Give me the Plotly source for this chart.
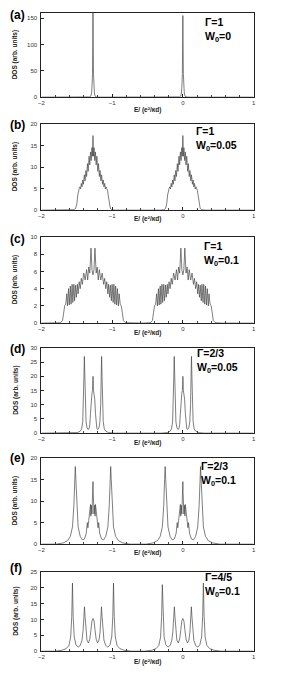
import plotly.graph_objects as go

W, H = 291, 678
X_LEFT, X_RIGHT = 39, 255

band_centers = [-1.27, 0.0]

# panel data: offsets from band centre (E units) and DOS values
a_off = [-0.10, -0.045, -0.03, -0.02, -0.012, -0.007, -0.003, 0.0, 0.003, 0.007, 0.012, 0.02, 0.03, 0.045, 0.10]
a_dos = [0, 0.5, 2, 8, 25, 45, 110, 160, 110, 45, 25, 8, 2, 0.5, 0]
a_dos_right = [0, 0.5, 2, 8, 25, 45, 105, 155, 105, 45, 25, 8, 2, 0.5, 0]

b_off = [-0.32, -0.27, -0.245, -0.228, -0.215, -0.205, -0.195, -0.185, -0.175, -0.165, -0.155, -0.145, -0.135,
         -0.122, -0.112, -0.100, -0.090, -0.078, -0.068, -0.055, -0.045, -0.035, -0.025, -0.015, -0.008, 0.0,
         0.008, 0.015, 0.025, 0.035, 0.045, 0.055, 0.068, 0.078, 0.090, 0.100, 0.112, 0.122, 0.135, 0.145,
         0.155, 0.165, 0.175, 0.185, 0.195, 0.205, 0.215, 0.228, 0.245, 0.27, 0.32]
b_dos = [0, 0.1, 0.4, 1.5, 3.5, 4.6, 5.0, 5.4, 4.9, 6.2, 5.4, 7.0, 6.0,
         8.2, 6.8, 9.2, 7.8, 10.8, 9.0, 12.5, 10.5, 13.5, 11.5, 14.5, 12.5, 17.3,
         12.5, 14.5, 11.5, 13.5, 10.5, 12.5, 9.0, 10.8, 7.8, 9.2, 6.8, 8.2, 6.0, 7.0,
         5.4, 6.2, 4.9, 5.4, 5.0, 4.6, 3.5, 1.5, 0.4, 0.1, 0]

c_off = [-0.56, -0.46, -0.43, -0.415, -0.40, -0.385, -0.37, -0.36, -0.345, -0.335, -0.32, -0.31, -0.295,
         -0.285, -0.27, -0.26, -0.245, -0.235, -0.22, -0.21, -0.195, -0.18, -0.165, -0.15, -0.13, -0.11,
         -0.09, -0.075, -0.06, -0.045, -0.028, -0.014, 0.0, 0.014, 0.028, 0.045, 0.06, 0.075, 0.09, 0.11,
         0.13, 0.15, 0.165, 0.18, 0.195, 0.21, 0.22, 0.235, 0.245, 0.26, 0.27, 0.285, 0.295, 0.31, 0.32,
         0.335, 0.345, 0.36, 0.37, 0.385, 0.40, 0.415, 0.43, 0.46, 0.56]
c_dos = [0, 0.05, 0.3, 1.2, 2.0, 2.2, 3.4, 2.0, 4.0, 2.1, 4.3, 2.2, 4.5,
         2.4, 4.5, 2.6, 4.4, 3.0, 4.5, 3.4, 4.8, 4.0, 5.2, 4.5, 5.8, 5.0,
         6.2, 5.0, 6.5, 5.8, 8.7, 6.2, 5.6, 6.2, 8.7, 5.8, 6.5, 5.0, 6.2, 5.0,
         5.8, 4.5, 5.2, 4.0, 4.8, 3.4, 4.5, 3.0, 4.4, 2.6, 4.5, 2.4, 4.5, 2.2, 4.3,
         2.1, 4.0, 2.0, 3.4, 2.2, 2.0, 1.2, 0.3, 0.05, 0]

d_off = [-0.30, -0.22, -0.18, -0.16, -0.145, -0.135, -0.128, -0.122, -0.116, -0.109, -0.098, -0.085, -0.07,
         -0.055, -0.045, -0.035, -0.025, -0.015, -0.007, -0.003, 0.0, 0.003, 0.007, 0.015, 0.025, 0.035,
         0.045, 0.055, 0.07, 0.085, 0.098, 0.109, 0.116, 0.122, 0.128, 0.135, 0.145, 0.16, 0.18, 0.22, 0.30]
d_dos = [0, 0.2, 0.7, 1.5, 4, 10, 20, 27, 20, 10, 4, 2, 1.3,
         1.6, 3, 7, 12, 14, 15, 19, 20, 19, 15, 14, 12, 7,
         3, 1.6, 1.3, 2, 4, 10, 20, 27, 20, 10, 4, 1.5, 0.7, 0.2, 0]

e_off = [-0.52, -0.42, -0.36, -0.32, -0.29, -0.27, -0.258, -0.25, -0.242, -0.23, -0.21, -0.18, -0.15,
         -0.12, -0.095, -0.08, -0.072, -0.06, -0.045, -0.035, -0.03, -0.022, -0.015, -0.008, -0.003, 0.0,
         0.003, 0.008, 0.015, 0.022, 0.03, 0.035, 0.045, 0.06, 0.072, 0.08, 0.095, 0.12, 0.15, 0.18, 0.21,
         0.23, 0.242, 0.25, 0.258, 0.27, 0.29, 0.32, 0.36, 0.42, 0.52]
e_dos = [0, 0.3, 0.8, 1.8, 4, 9, 15, 18, 15, 9, 4, 1.8, 1.0,
         1.2, 2.5, 5.0, 3.8, 5.5, 7.5, 9.2, 6.5, 9.0, 7.0, 10.0, 12.0, 14.5,
         12.0, 10.0, 7.0, 9.0, 6.5, 9.2, 7.5, 5.5, 3.8, 5.0, 2.5, 1.2, 1.0, 1.8, 4,
         9, 15, 18, 15, 9, 4, 1.8, 0.8, 0.3, 0]

f_off = [-0.54, -0.44, -0.38, -0.34, -0.315, -0.30, -0.29, -0.28, -0.265, -0.24, -0.21, -0.18, -0.155,
         -0.14, -0.128, -0.12, -0.112, -0.10, -0.085, -0.065, -0.045, -0.03, -0.015, 0.0,
         0.015, 0.03, 0.045, 0.065, 0.085, 0.10, 0.112, 0.12, 0.128, 0.14, 0.155, 0.18, 0.21, 0.24,
         0.265, 0.28, 0.29, 0.30, 0.315, 0.34, 0.38, 0.44, 0.54]
f_dos_left = [0, 0.3, 0.8, 1.8, 4.5, 11, 21.5, 11, 4.5, 2, 1.3, 1.8, 3.5,
              6.5, 11, 14, 11, 6, 3.5, 2.6, 3.8, 6.5, 9.5, 10.3,
              9.5, 6.5, 3.8, 2.6, 3.5, 6, 11, 14, 11, 6.5, 3.5, 1.8, 1.3, 2,
              4.5, 11, 21.5, 11, 4.5, 1.8, 0.8, 0.3, 0]
f_dos_right = [0, 0.3, 0.8, 1.8, 4.5, 11, 21.0, 11, 4.5, 2, 1.3, 1.8, 3.5,
               6.5, 11, 14, 11, 6, 3.5, 2.6, 3.8, 6.5, 9.5, 10.3,
               9.5, 6.5, 3.8, 2.6, 3.5, 6, 11, 14, 11, 6.5, 3.5, 1.8, 1.3, 2,
               4.5, 11, 21.5, 11, 4.5, 1.8, 0.8, 0.3, 0]

panels = [
    dict(tag="(a)", gamma="Γ=1", w0="0", off=a_off, dos=[a_dos, a_dos_right], ymax=160, dtick=50,
         top=10, bottom=95, lab_y=12, gx=205, gy=27, xt_y=108),
    dict(tag="(b)", gamma="Γ=1", w0="0.05", off=b_off, dos=[b_dos, b_dos], ymax=20, dtick=5,
         top=122, bottom=209, lab_y=123, gx=195, gy=137, xt_y=218),
    dict(tag="(c)", gamma="Γ=1", w0="0.1", off=c_off, dos=[c_dos, c_dos], ymax=10, dtick=2,
         top=236, bottom=323, lab_y=238, gx=204, gy=253, xt_y=333),
    dict(tag="(d)", gamma="Γ=2/3", w0="0.05", off=d_off, dos=[d_dos, d_dos], ymax=30, dtick=5,
         top=348, bottom=434, lab_y=349, gx=196, gy=361, xt_y=444),
    dict(tag="(e)", gamma="Γ=2/3", w0="0.1", off=e_off, dos=[e_dos, e_dos], ymax=20, dtick=5,
         top=459, bottom=546, lab_y=459, gx=200, gy=475, xt_y=555),
    dict(tag="(f)", gamma="Γ=4/5", w0="0.1", off=f_off, dos=[f_dos_left, f_dos_right], ymax=25, dtick=5,
         top=574, bottom=654, lab_y=570, gx=205, gy=587, xt_y=665),
]

E_MIN, E_MAX = -2.0, 1.0

fig = go.Figure()
annotations = []
layout_axes = {}
FONT = "Liberation Sans, Arial, DejaVu Sans, sans-serif"

for i, p in enumerate(panels, start=1):
    xs = [E_MIN]
    ys = [0.0]
    for c, dos in zip(band_centers, p["dos"]):
        xs += [c + o for o in p["off"]]
        ys += list(dos)
    xs.append(E_MAX)
    ys.append(0.0)
    xa = "x" if i == 1 else f"x{i}"
    ya = "y" if i == 1 else f"y{i}"
    fig.add_trace(go.Scatter(x=xs, y=ys, mode="lines", xaxis=xa, yaxis=ya,
                             line=dict(color="#484848", width=0.7), showlegend=False,
                             hoverinfo="skip"))
    ydom = [1 - p["bottom"] / H, 1 - p["top"] / H]
    xkey = "xaxis" if i == 1 else f"xaxis{i}"
    ykey = "yaxis" if i == 1 else f"yaxis{i}"
    layout_axes[xkey] = dict(domain=[X_LEFT / W, X_RIGHT / W], range=[E_MIN, E_MAX], anchor=ya,
                             tickvals=[-2, -1, 0, 1], ticks="inside", ticklen=3, tickwidth=0.8,
                             tickcolor="#222", showline=True, linecolor="#222", linewidth=1,
                             mirror=True, showgrid=False, zeroline=False,
                             minor=dict(dtick=0.2, ticks="inside", ticklen=2, tickcolor="#444",
                                        showgrid=False),
                             tickfont=dict(size=6, family=FONT, color="#333"))
    layout_axes[ykey] = dict(domain=ydom, range=[0, p["ymax"]], anchor=xa, dtick=p["dtick"],
                             ticks="inside", ticklen=3, tickwidth=0.8, tickcolor="#222",
                             showline=True, linecolor="#222", linewidth=1, mirror=True,
                             showgrid=False, zeroline=False, ticklabelstandoff=2,
                             tickfont=dict(size=6, family=FONT, color="#333"))
    # panel label
    annotations.append(dict(x=5 / W, y=1 - p["lab_y"] / H, xref="paper", yref="paper",
                            text=p["tag"], showarrow=False, xanchor="left",
                            yanchor="middle",
                            font=dict(size=12, family=FONT, color="black", weight="bold")))
    # parameter block: two lines in one text
    annotations.append(dict(x=p["gx"] / W, y=1 - p["gy"] / H, xref="paper", yref="paper",
                            text=f"{p['gamma']}<br>W<sub>0</sub>={p['w0']}", showarrow=False,
                            xanchor="left", yanchor="middle", align="left", borderpad=0,
                            font=dict(size=10.5, family=FONT, color="black", weight="bold")))
    annotations.append(dict(x=12.5 / W, y=1 - (p["top"] + p["bottom"]) / 2 / H, xref="paper",
                            yref="paper", text="DOS (arb. units)", textangle=-90,
                            showarrow=False, xanchor="center", yanchor="middle",
                            font=dict(size=6.5, family=FONT, color="#222", weight="bold")))
    annotations.append(dict(x=147 / W, y=1 - p["xt_y"] / H, xref="paper", yref="paper",
                            text="E/ (e²/κd)", showarrow=False, xanchor="center",
                            yanchor="middle",
                            font=dict(size=6.5, family=FONT, color="#222", weight="bold")))

fig.update_layout(width=W, height=H, margin=dict(l=0, r=0, t=0, b=0),
                  paper_bgcolor="white", plot_bgcolor="white", annotations=annotations,
                  **layout_axes)

fig.write_html("out.html", config={"displayModeBar": False},
               post_script="document.body.style.margin='0px';")
